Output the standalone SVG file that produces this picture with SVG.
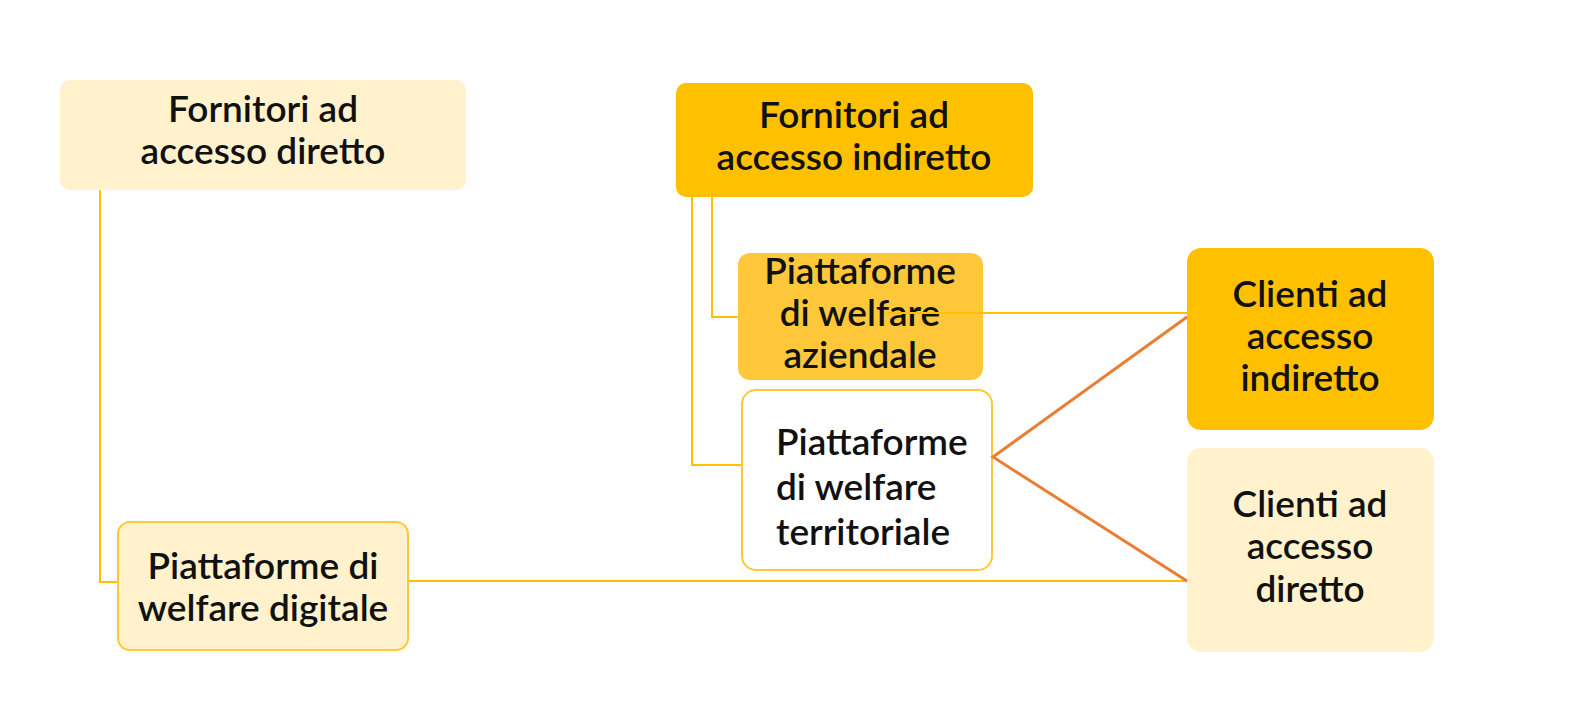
<svg xmlns="http://www.w3.org/2000/svg" width="1585" height="711" viewBox="0 0 1585 711">
<style>
.t{font-family:Lato,"Open Sans","Liberation Sans",sans-serif;font-size:37px;font-weight:600;fill:#111;}
.c{text-anchor:middle;}
.y{fill:none;stroke:#FFC000;stroke-width:2;}
.o{fill:none;stroke:#E97E35;stroke-width:3;}
.light{fill:#FFF2CC;}
.amber{fill:#FFC000;}
</style>
<rect width="1585" height="711" fill="#fff"/>
<g id="connectors">
<polyline class="y" points="100,190 100,582 118,582"/>
<polyline class="y" points="712,197 712,317 738,317"/>
<polyline class="y" points="692,197 692,465 742,465"/>
<line class="y" x1="408" y1="581" x2="1187" y2="581"/>
</g>
<g id="n1"><rect class="light" x="60" y="80" width="406" height="110" rx="10"/>
<text class="t c" x="263" y="122">Fornitori ad</text><text class="t c" x="263" y="164">accesso diretto</text></g>
<g id="n2"><rect class="amber" x="676" y="83" width="357" height="114" rx="10"/>
<text class="t c" x="854" y="128">Fornitori ad</text><text class="t c" x="854" y="170">accesso indiretto</text></g>
<g id="n3"><rect x="738" y="253" width="245" height="127" rx="12" fill="#FFC83A"/>
<text class="t c" x="860" y="284">Piattaforme</text><text class="t c" x="860" y="326">di welfare</text><text class="t c" x="860" y="368">aziendale</text></g>
<g id="n4"><rect x="742" y="390" width="250" height="180" rx="14" fill="#fff" stroke="#FFC83A" stroke-width="2"/>
<text class="t" x="776" y="455">Piattaforme</text><text class="t" x="776" y="500">di welfare</text><text class="t" x="776" y="545">territoriale</text></g>
<g id="n5"><rect x="118" y="522" width="290" height="128" rx="12" fill="#FFF2CC" stroke="#FFC83A" stroke-width="2"/>
<text class="t c" x="263" y="579">Piattaforme di</text><text class="t c" x="263" y="621">welfare digitale</text></g>
<g id="n6"><rect class="amber" x="1187" y="248" width="247" height="182" rx="14"/>
<text class="t c" x="1310" y="307">Clienti ad</text><text class="t c" x="1310" y="349">accesso</text><text class="t c" x="1310" y="391">indiretto</text></g>
<g id="n7"><rect class="light" x="1187" y="448" width="247" height="204" rx="14"/>
<text class="t c" x="1310" y="517">Clienti ad</text><text class="t c" x="1310" y="559">accesso</text><text class="t c" x="1310" y="602">diretto</text></g>
<g id="connectors-top">
<line class="y" x1="887" y1="313" x2="1187" y2="313"/>
<polyline class="o" points="1187,317 993,457 1187,581"/>
</g>
</svg>
